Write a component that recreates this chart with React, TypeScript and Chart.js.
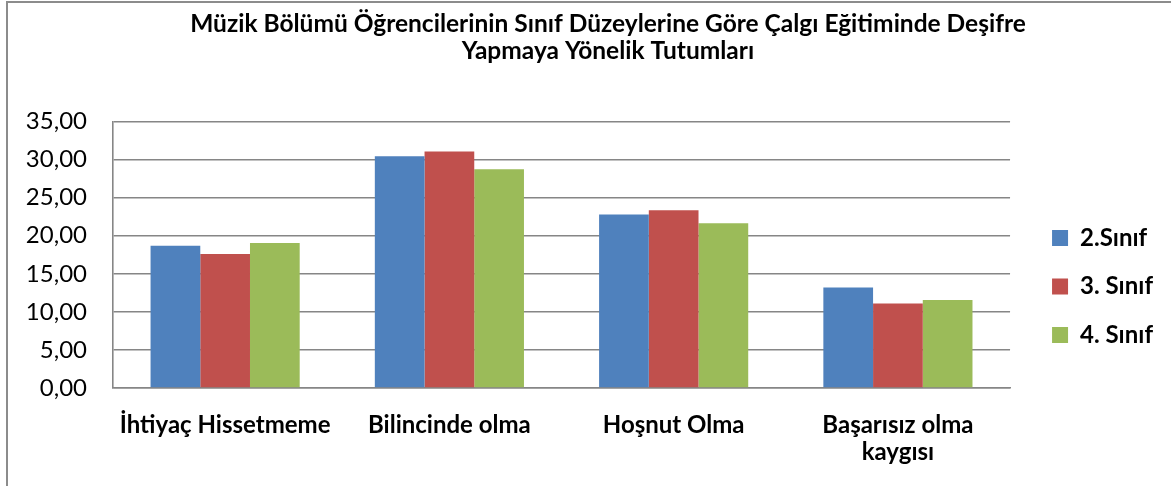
import React, { useEffect, useRef } from "react";
import { Chart, registerables } from "chart.js";

Chart.register(...registerables);

const chartTitle = [
  "Müzik Bölümü Öğrencilerinin Sınıf Düzeylerine Göre Çalgı Eğitiminde Deşifre",
  "Yapmaya Yönelik Tutumları",
];
const categories = [
  ["İhtiyaç Hissetmeme"],
  ["Bilincinde olma"],
  ["Hoşnut Olma"],
  ["Başarısız olma", "kaygısı"],
];
const seriesNames = ["2.Sınıf", "3. Sınıf", "4. Sınıf"];
const sinif2 = [18.69, 30.44, 22.77, 13.21];
const sinif3 = [17.6, 31.05, 23.34, 11.11];
const sinif4 = [19.04, 28.73, 21.64, 11.55];
const seriesColors = ["#4F81BD", "#C0504D", "#9BBB59"];
const yTickLabels = ["0,00", "5,00", "10,00", "15,00", "20,00", "25,00", "30,00", "35,00"];
const Y_MIN = 0;
const Y_MAX = 35;
const Y_STEP = 5;

const FONT = "Lato, 'DejaVu Sans', sans-serif";
const GRID = "#868686";
const TITLE_SHIFT = 16.5;

const titleShiftPlugin = {
  id: "titleShift",
  afterLayout(chart: any) {
    const t = chart.titleBlock;
    if (t) {
      t.left += TITLE_SHIFT;
      t.right += TITLE_SHIFT;
    }
  },
};

export default function App() {
  const ref = useRef<HTMLCanvasElement>(null);

  useEffect(() => {
    const canvas = ref.current;
    if (!canvas) return;
    const seriesData = [sinif2, sinif3, sinif4];
    const chart = new Chart(canvas, {
      type: "bar",
      data: {
        labels: categories,
        datasets: seriesData.map((d, i) => ({
          label: seriesNames[i],
          data: d,
          backgroundColor: seriesColors[i],
          borderWidth: 0,
          categoryPercentage: 0.665,
          barPercentage: 1,
          yAxisID: "y",
        })),
      },
      plugins: [titleShiftPlugin],
      options: {
        responsive: false,
        animation: false,
        layout: { padding: { left: 20, right: 8, top: 0, bottom: 0 } },
        plugins: {
          title: {
            display: true,
            text: chartTitle,
            color: "#000",
            font: { family: FONT, size: 24.5, weight: "bold", lineHeight: 1.1 },
            padding: { top: 10.3, bottom: 57.3 },
          },
          legend: {
            position: "right",
            align: "start",
            title: {
              display: true,
              text: "",
              font: { size: 10, lineHeight: 1 },
              padding: { top: 191.5, bottom: 0 },
            },
            labels: {
              boxWidth: 16,
              boxHeight: 16,
              padding: 24.5,
              color: "#000",
              font: { family: FONT, size: 24, weight: "bold" },
            },
          },
          tooltip: { enabled: false },
        },
        scales: {
          x: {
            grid: { display: false, drawTicks: false },
            border: { display: true, color: GRID, width: 1.6 },
            afterFit: (s: any) => {
              s.height = 98;
            },
            ticks: {
              color: "#000",
              font: { family: FONT, size: 24, weight: "bold", lineHeight: 1.15 },
              padding: 23,
              maxRotation: 0,
              autoSkip: false,
            },
          },
          y: {
            min: Y_MIN,
            max: Y_MAX,
            afterFit: (s: any) => {
              s.width = 93;
            },
            ticks: {
              stepSize: Y_STEP,
              callback: (v: any) => yTickLabels[Math.round((Number(v) - Y_MIN) / Y_STEP)],
              padding: 26,
              color: "#000",
              font: { family: FONT, size: 24 },
            },
            grid: { color: GRID, lineWidth: 1.6, drawTicks: false },
            border: { display: true, color: GRID, width: 1.6 },
          },
          spacer: {
            type: "linear",
            position: "right",
            display: true,
            grid: { display: false },
            ticks: { display: false },
            border: { display: false },
            afterFit: (s: any) => {
              s.width = 17.5;
            },
          },
        },
      } as any,
    });
    return () => chart.destroy();
  }, []);

  return (
    <div
      style={{
        position: "absolute",
        left: 0,
        top: 0,
        width: 1171,
        height: 486,
        overflow: "hidden",
        background: "#fff",
      }}
    >
      <div
        style={{
          position: "absolute",
          left: 6,
          top: 1,
          width: 1300,
          height: 600,
          border: "2px solid #8c8c8c",
          boxSizing: "border-box",
        }}
      />
      <canvas
        ref={ref}
        width={1171}
        height={486}
        style={{ position: "absolute", left: 0, top: 0, width: 1171, height: 486 }}
      />
    </div>
  );
}
